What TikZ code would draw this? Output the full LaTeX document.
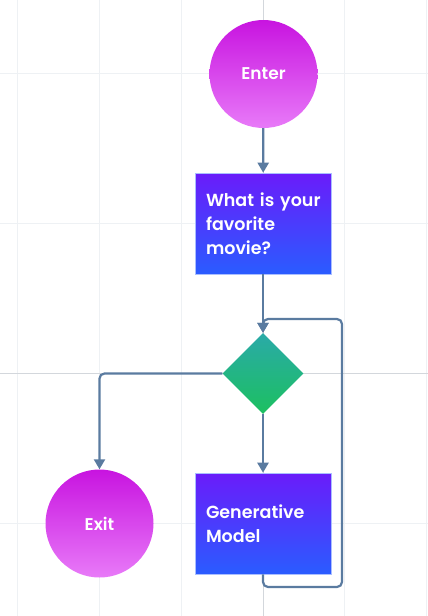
\documentclass[tikz,border=0pt]{standalone}
\usepackage{fontspec}
\setmainfont{Poppins}[BoldFont={Poppins SemiBold}]
\definecolor{circtop}{HTML}{C814E0}
\definecolor{circbot}{HTML}{E87AF8}
\definecolor{boxtop}{HTML}{6A1CFA}
\definecolor{boxbot}{HTML}{2A5CFF}
\definecolor{dectop}{HTML}{2AAAA8}
\definecolor{decbot}{HTML}{1CC060}
\definecolor{flowblue}{HTML}{5A7BA0}
\definecolor{gridlight}{HTML}{EEF1F4}
\definecolor{griddark}{HTML}{D3D7DC}
\usetikzlibrary{shapes.geometric, arrows.meta}
\tikzset{
    termcircle/.style={circle, minimum size=108pt, inner sep=0pt,
                       top color=circtop, bottom color=circbot, text=white,
                       font=\fontsize{17}{20}\selectfont\bfseries},
    procbox/.style={rectangle, minimum width=136pt, minimum height=101pt, inner sep=0pt,
                    text width=114pt, align=left, top color=boxtop, bottom color=boxbot,
                    draw=boxbot!40, line width=0.6pt, text=white,
                    font=\fontsize{17.5}{24}\selectfont\bfseries},
    decision/.style={diamond, minimum width=81pt, minimum height=81pt, inner sep=0pt,
                     top color=dectop, bottom color=decbot},
    flow/.style={-{Triangle[length=10pt, width=11pt]}, line width=2.2pt, flowblue},
    gridline/.style={line width=1pt, gridlight},
    axisline/.style={line width=1pt, griddark},
}

\begin{document}
\begin{tikzpicture}[x=1pt, y=-1pt]
    \useasboundingbox (0,0) rectangle (428,616);

    % Background grid
    \foreach \gx in {17, 99, 181, 344, 426}
        \draw[gridline] (\gx,0) -- (\gx,616);
    \foreach \gy in {73, 223, 523}
        \draw[gridline] (0,\gy) -- (428,\gy);
    \draw[axisline] (263,0) -- (263,616);
    \draw[axisline] (0,373) -- (428,373);

    % Nodes
    \node[termcircle] (enter) at (263.5, 74) {Enter};
    \node[procbox] (question) at (263, 223.5) {\mbox{What is your}\\favorite\\movie?};
    \node[decision] (choice) at (263, 373.5) {};
    \node[procbox] (model) at (263, 523.5) {Generative\\Model};
    \node[termcircle] (exit) at (99.5, 523.5) {Exit};

    % Connectors
    \draw[flow] (enter) -- (question);
    \draw[flow] (question) -- (choice);
    \draw[flow] (choice) -- (model);
    \draw[flow, rounded corners=5pt] (choice.west) -| (exit.north);

    % Loop back into the decision
    \coordinate (loopcorner) at (342, 587);
    \draw[flow, rounded corners=5pt] (model.south) |- (loopcorner) |- (263, 319) -- (choice.north);
\end{tikzpicture}
\end{document}
